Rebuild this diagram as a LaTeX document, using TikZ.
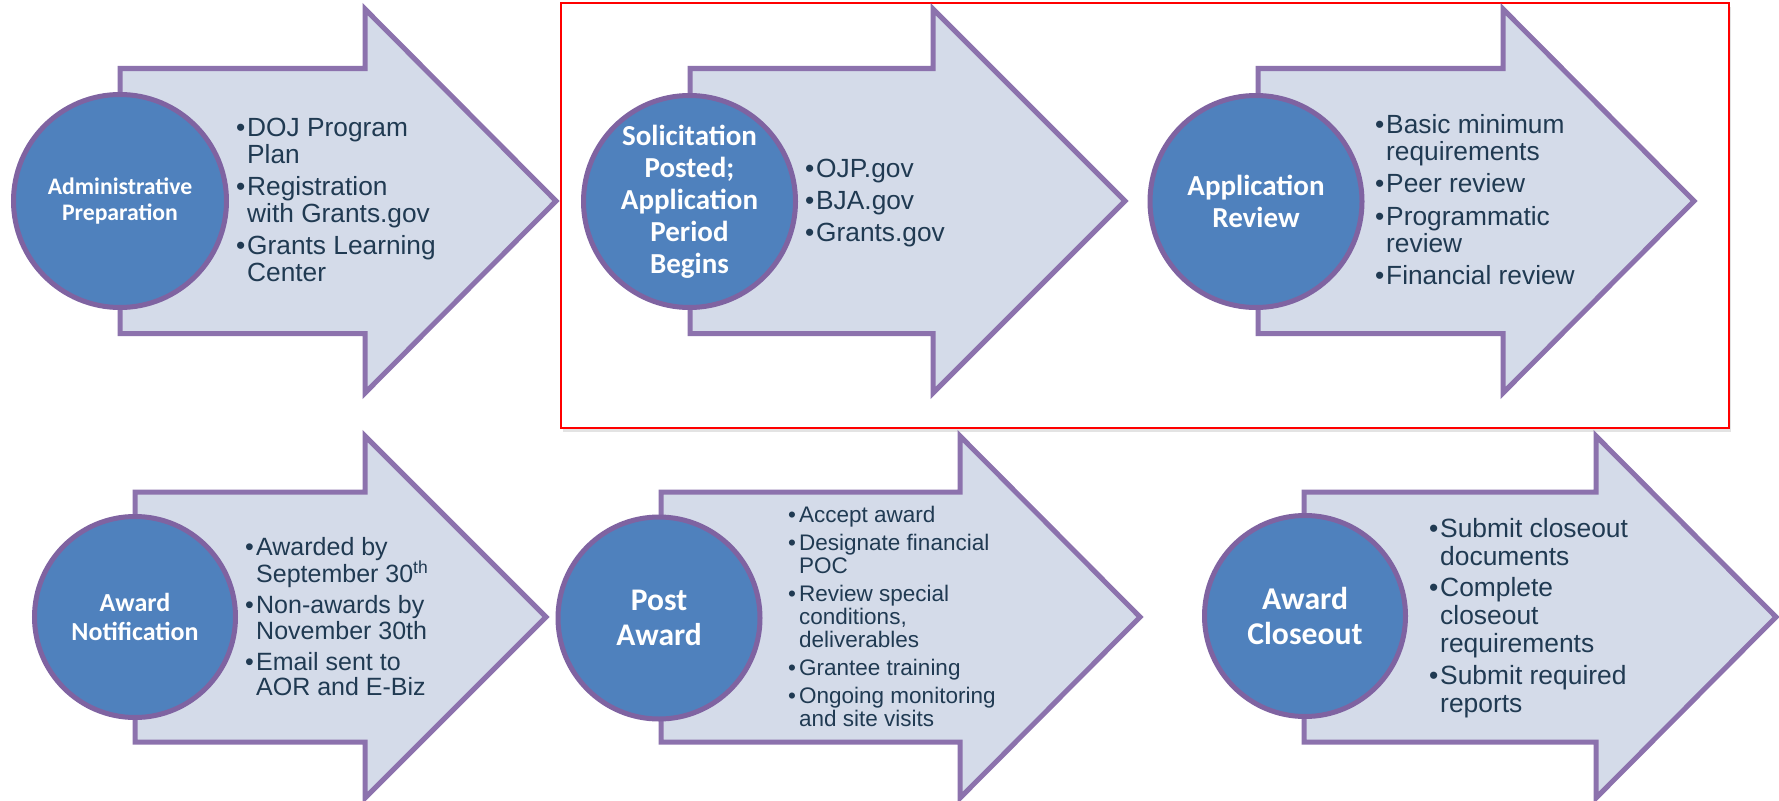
\documentclass[tikz,border=0pt]{standalone}
\usepackage{fontspec}
\setmainfont{Liberation Sans}
\newfontfamily\circfont{Carlito}
\usetikzlibrary{shadows}
\definecolor{arrowfill}{HTML}{D4DBE9}
\definecolor{arrowline}{HTML}{8C72AD}
\definecolor{circfill}{HTML}{4F81BD}
\definecolor{circline}{HTML}{7F63A1}
\definecolor{txt}{HTML}{203A52}
\newcommand\bul{\makebox[11pt][l]{\textbullet}}
\newcommand\cnt{\hspace*{11pt}}
% left, head, tip, centre, body half-height, head half-height
\newcommand\stagearrow[6]{%
  \draw[bigarrow] (#1,{#4-#5}) -- (#2,{#4-#5}) -- (#2,{#4-#6}) -- (#3,#4)
    -- (#2,{#4+#6}) -- (#2,{#4+#5}) -- (#1,{#4+#5}) -- cycle;}
\tikzset{
  bigarrow/.style={fill=arrowfill, draw=arrowline, line width=5pt, line join=miter},
  stage/.style={circle, fill=circfill, draw=circline, line width=5pt, inner sep=0pt,
    text=white, align=center},
  bullets/.style={anchor=base west, inner sep=0pt, text=txt},
  redframe/.style={draw=red, line width=1.8pt, fill=white,
    drop shadow={opacity=0.18, fill=black!60, shadow xshift=1.5pt, shadow yshift=-4pt}},
}
\begin{document}
\begin{tikzpicture}[x=1pt,y=-1pt]
\useasboundingbox (0,0) rectangle (1779,800);
\fill[white] (0,0) rectangle (1779,800);
\draw[redframe] (561,3) rectangle (1729,428);

\stagearrow{120}{365}{556}{201}{132.5}{192}
\stagearrow{690}{933}{1125}{201}{132.5}{192}
\stagearrow{1258}{1503}{1694}{201}{132.5}{192}
\stagearrow{135}{365}{546}{617}{125}{181}
\stagearrow{661}{960}{1140}{617}{125}{181}
\stagearrow{1304}{1596}{1776}{617}{125}{181}

\node[stage, minimum size=213pt, font=\circfont\bfseries\fontsize{23.7}{26.7}\selectfont] (c1) at (120,201) {Administrative\\Preparation};
\node[stage, minimum size=212pt, font=\circfont\bfseries\fontsize{29}{32}\selectfont] (c2) at (689.5,201.5) {Solicitation\\Posted;\\Application\\Period\\Begins};
\node[stage, minimum size=212pt, font=\circfont\bfseries\fontsize{29}{32.3}\selectfont] (c3) at (1256,201.5) {Application\\Review};
\node[stage, minimum size=201pt, font=\circfont\bfseries\fontsize{26}{28.3}\selectfont] (c4) at (135,617) {Award\\Notification};
\node[stage, minimum size=202pt, font=\circfont\bfseries\fontsize{31.5}{35}\selectfont] (c5) at (659,618) {Post\\Award};
\node[stage, minimum size=201pt, font=\circfont\bfseries\fontsize{31.7}{35}\selectfont] (c6) at (1305,616) {Award\\Closeout};

\node[bullets] (t1) at (236,136) {\parbox[t]{300pt}{\fontsize{26.3}{27}\selectfont
\bul DOJ Program\\ \cnt Plan\\[5pt]
\bul Registration\\ \cnt with Grants.gov\\[5pt]
\bul Grants Learning\\ \cnt Center}};

\node[bullets] (t2) at (805,177) {\parbox[t]{300pt}{\fontsize{26.3}{27}\selectfont
\bul OJP.gov\\[5pt]
\bul BJA.gov\\[5pt]
\bul Grants.gov}};

\node[bullets] (t3) at (1375,133) {\parbox[t]{300pt}{\fontsize{26.3}{27}\selectfont
\bul Basic minimum\\ \cnt requirements\\[5.5pt]
\bul Peer review\\[5.5pt]
\bul Programmatic\\ \cnt review\\[5.5pt]
\bul Financial review}};

\node[bullets] (t4) at (245,555) {\parbox[t]{300pt}{\fontsize{25}{25.5}\selectfont
\bul Awarded by\\ \cnt September 30\textsuperscript{th}\\[5.5pt]
\bul Non-awards by\\ \cnt November 30th\\[5.5pt]
\bul Email sent to\\ \cnt AOR and E-Biz}};

\node[bullets] (t5) at (788,522) {\parbox[t]{300pt}{\fontsize{22.5}{23.2}\selectfont
\bul Accept award\\[4.8pt]
\bul Designate financial\\ \cnt POC\\[4.8pt]
\bul Review special\\ \cnt conditions,\\ \cnt deliverables\\[4.8pt]
\bul Grantee training\\[4.8pt]
\bul Ongoing monitoring\\ \cnt and site visits}};

\node[bullets] (t6) at (1429,537) {\parbox[t]{300pt}{\fontsize{26.4}{28}\selectfont
\bul Submit closeout\\ \cnt documents\\[3.5pt]
\bul Complete\\ \cnt closeout\\ \cnt requirements\\[3.5pt]
\bul Submit required\\ \cnt reports}};
\end{tikzpicture}
\end{document}
